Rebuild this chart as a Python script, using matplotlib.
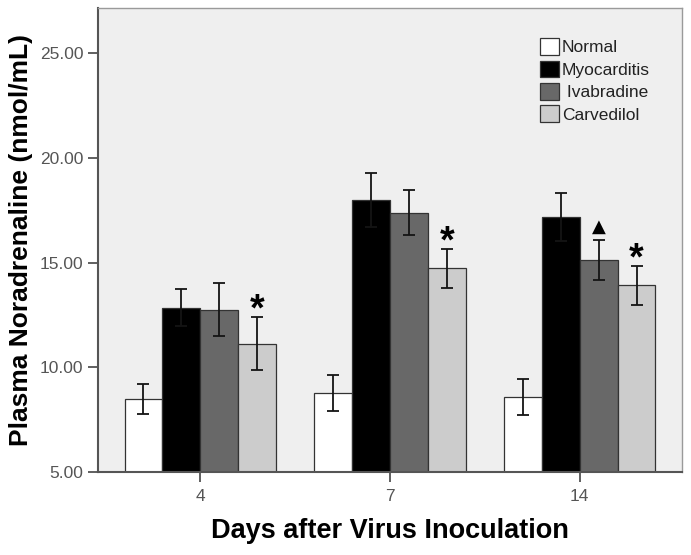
import matplotlib
matplotlib.use("Agg")
import matplotlib.pyplot as plt
import numpy as np

plt.rcParams["font.family"] = ["Liberation Sans", "DejaVu Sans"]

days = ["4", "7", "14"]
groups = ["Normal", "Myocarditis", " Ivabradine", "Carvedilol"]
colors = ["#ffffff", "#000000", "#686868", "#cccccc"]

means = {
    "Normal":      [8.47, 8.78, 8.59],
    "Myocarditis": [12.85, 17.99, 17.19],
    "Ivabradine":  [12.75, 17.38, 15.12],
    "Carvedilol":  [11.13, 14.72, 13.91],
}
errors = {
    "Normal":      [0.72, 0.87, 0.87],
    "Myocarditis": [0.87, 1.28, 1.14],
    "Ivabradine":  [1.25, 1.08, 0.97],
    "Carvedilol":  [1.26, 0.92, 0.93],
}
# significance marks: (series, day index, symbol)
marks = [("Carvedilol", 0, "*"), ("Carvedilol", 1, "*"),
         ("Carvedilol", 2, "*"), ("Ivabradine", 2, "▲")]

fig = plt.figure(figsize=(6.91, 5.55), dpi=100)
ax = fig.add_axes([0.1418, 0.1495, 0.987 - 0.1418, 0.9856 - 0.1495])
ax.set_facecolor("#efefef")

x = np.arange(len(days))
width = 0.2
keys = list(means.keys())
for i, key in enumerate(keys):
    pos = x + (i - 1.5) * width
    ax.bar(pos, np.array(means[key]) - 5, width, bottom=5, color=colors[i],
           edgecolor="#333333", linewidth=0.9, label=groups[i], zorder=2)
    ax.errorbar(pos, means[key], yerr=errors[key], fmt="none",
                ecolor="#141414", elinewidth=1.3, capsize=4.5, capthick=1.3,
                zorder=3)

for key, d, sym in marks:
    i = keys.index(key)
    px = x[d] + (i - 1.5) * width
    top = means[key][d] + errors[key][d]
    if sym == "*":
        ax.annotate(sym, (px, top), xytext=(0, -8), textcoords="offset points",
                    ha="center", va="bottom", fontsize=27, fontweight="bold")
    else:
        ax.annotate(sym, (px, top), xytext=(0, 3), textcoords="offset points",
                    ha="center", va="bottom", fontsize=13,
                    family=["DejaVu Sans"])

ax.set_xlim(-0.54, 2.54)
ax.set_ylim(5, 27.15)
ax.set_xticks(x)
ax.set_xticklabels(days)
ax.set_yticks([5, 10, 15, 20, 25])
ax.set_yticklabels([f"{v:.2f}" for v in [5, 10, 15, 20, 25]])
ax.tick_params(axis="both", labelsize=12.5, labelcolor="#555555",
               color="#444444", length=7, width=1.2)
ax.tick_params(axis="x", pad=5)

for side in ["left", "bottom"]:
    ax.spines[side].set_color("#555555")
    ax.spines[side].set_linewidth(1.5)
for side in ["top", "right"]:
    ax.spines[side].set_color("#9a9a9a")
    ax.spines[side].set_linewidth(1.0)

ax.set_ylabel("Plasma Noradrenaline (nmol/mL)", fontsize=19,
              fontweight="bold", labelpad=5)
ax.set_xlabel("Days after Virus Inoculation", fontsize=19.5,
              fontweight="bold", labelpad=10)

leg = ax.legend(loc="upper left", bbox_to_anchor=(0.745, 0.95), frameon=False,
                fontsize=12.5, handlelength=1.1, handleheight=1.1,
                handletextpad=0.15, labelspacing=0.3, borderaxespad=0)
for t in leg.get_texts():
    t.set_color("#222222")

fig.savefig("out.png", dpi=100)
